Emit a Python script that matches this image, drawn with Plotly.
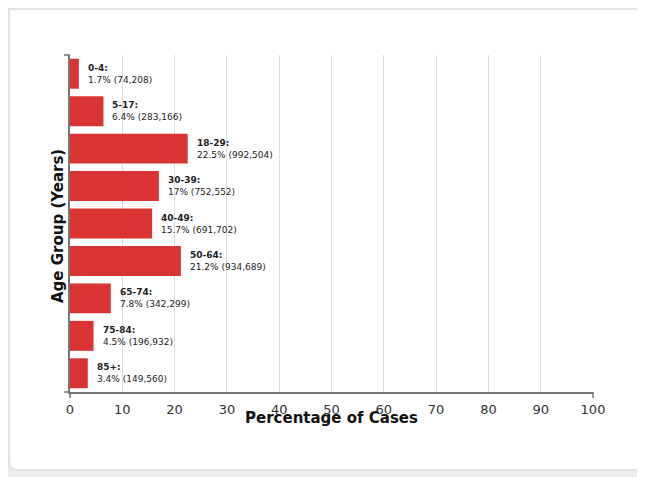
import plotly.graph_objects as go

age_groups = ["0-4", "5-17", "18-29", "30-39", "40-49", "50-64", "65-74", "75-84", "85+"]
percentages = [1.7, 6.4, 22.5, 17, 15.7, 21.2, 7.8, 4.5, 3.4]
case_counts = [74208, 283166, 992504, 752552, 691702, 934689, 342299, 196932, 149560]
x_ticks = [0, 10, 20, 30, 40, 50, 60, 70, 80, 90, 100]

# The page body has an 8px margin, so the figure starts at (8, 8) on the page.
O = 8
W, H = 645 - O, 477 - O
# plot-area edges in page pixels
PL, PR, PT, PB = 70, 593, 55, 392
L, R, T, B = PL - O, PR - O, PT - O, PB - O


def px(xp):
    """page x pixel -> paper coordinate"""
    return (xp - O - L) / (R - L)


def py(yp):
    """page y pixel -> paper coordinate"""
    return (B - (yp - O)) / (B - T)


FONT = "DejaVu Sans, Verdana, sans-serif"
BAR = "#d93434"

fig = go.Figure()
fig.add_trace(go.Bar(
    x=percentages, y=age_groups, orientation="h",
    marker=dict(color=BAR, line=dict(width=0)),
    hoverinfo="skip",
))

annotations = []
for g, p, c in zip(age_groups, percentages, case_counts):
    annotations.append(dict(
        x=p, y=g, xref="x", yref="y", xanchor="left", yanchor="middle",
        xshift=7, showarrow=False, align="left",
        text=f"<b>{g}:</b><br>{p:g}% ({c:,})",
        font=dict(family=FONT, size=9, color="#222"),
    ))

annotations.append(dict(
    x=0.5, y=py(418), xref="paper", yref="paper", xanchor="center", yanchor="middle",
    showarrow=False, text="<b>Percentage of Cases</b>",
    font=dict(family=FONT, size=15, color="#111"),
))
annotations.append(dict(
    x=px(58), y=py(226), xref="paper", yref="paper", xanchor="center", yanchor="middle",
    showarrow=False, textangle=-90, text="<b>Age Group (Years)</b>",
    font=dict(family=FONT, size=15, color="#111"),
))

xl, xr, yt, yb = 9, 652, 9, 470
card = (f"M {px(xl)},{py(yt)} L {px(xr)},{py(yt)} L {px(xr)},{py(yb - 8)} "
        f"Q {px(xr)},{py(yb)} {px(xr - 8)},{py(yb)} L {px(xl + 8)},{py(yb)} "
        f"Q {px(xl)},{py(yb)} {px(xl)},{py(yb - 8)} Z")

shapes = [
    dict(type="rect", xref="paper", yref="paper", x0=px(0), x1=px(660), y0=py(480), y1=py(455),
         fillcolor="#ececec", line=dict(width=0), layer="below"),
    dict(type="path", xref="paper", yref="paper", path=card,
         fillcolor="white", line=dict(color="#e2e2e2", width=2), layer="below"),
    # axis outer ticks
    dict(type="line", xref="paper", yref="paper", x0=px(64), x1=px(PL), y0=py(PT), y1=py(PT),
         line=dict(color="#777", width=1.5)),
    dict(type="line", xref="paper", yref="paper", x0=px(64), x1=px(PL), y0=py(PB), y1=py(PB),
         line=dict(color="#777", width=1.5)),
    dict(type="line", xref="paper", yref="paper", x0=px(PL), x1=px(PL), y0=py(PB), y1=py(PB + 6),
         line=dict(color="#777", width=1.5)),
    dict(type="line", xref="paper", yref="paper", x0=px(PR), x1=px(PR), y0=py(PB), y1=py(PB + 6),
         line=dict(color="#777", width=1.5)),
]

fig.update_layout(
    width=W, height=H,
    margin=dict(l=L, r=W - R, t=T, b=H - B, pad=0),
    paper_bgcolor="white", plot_bgcolor="rgba(0,0,0,0)",
    showlegend=False, bargap=0.2,
    font=dict(family=FONT),
    annotations=annotations, shapes=shapes,
    xaxis=dict(
        range=[0, 100], tickvals=x_ticks, ticktext=[str(t) for t in x_ticks],
        showgrid=True, gridcolor="#dcdcdc", gridwidth=1, zeroline=False,
        showline=True, linecolor="#777", linewidth=1.5,
        ticks="outside", ticklen=5, tickcolor="rgba(0,0,0,0)",
        tickfont=dict(family=FONT, size=13, color="#333"),
        fixedrange=True,
    ),
    yaxis=dict(
        categoryorder="array", categoryarray=age_groups, autorange="reversed",
        showticklabels=False, showgrid=False, zeroline=False,
        showline=True, linecolor="#777", linewidth=1.5, ticks="",
        fixedrange=True,
    ),
)

fig.write_html("out.html")
